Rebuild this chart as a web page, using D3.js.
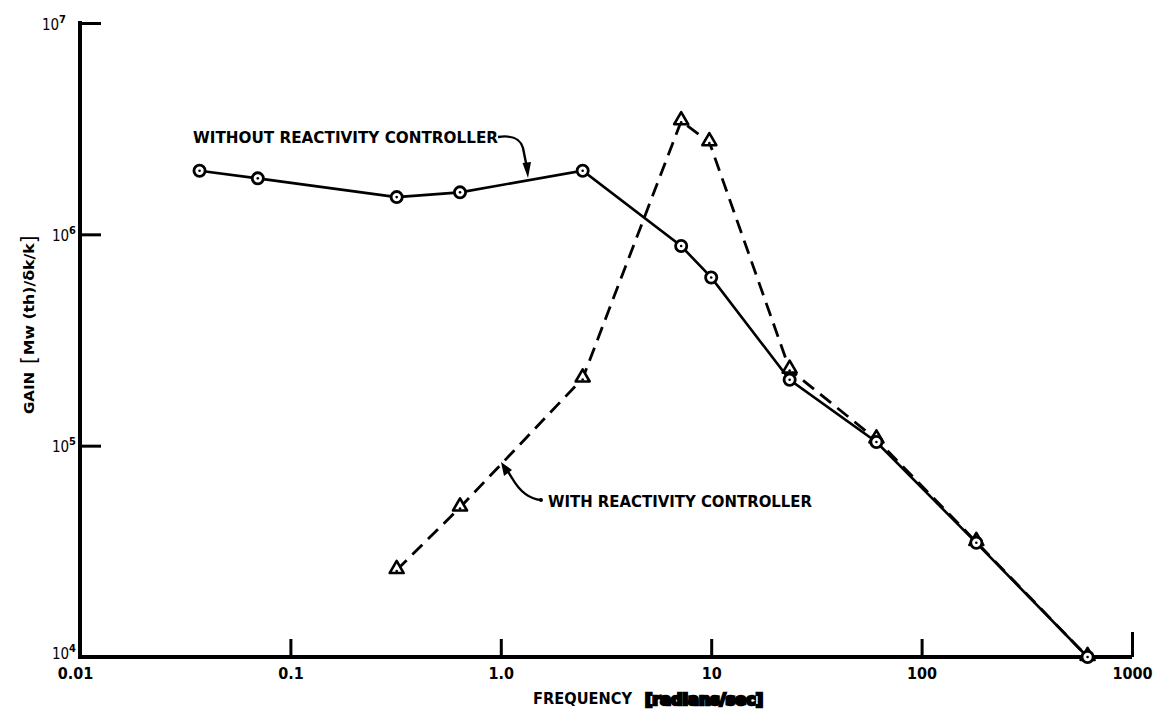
<!DOCTYPE html>
<html>
<head>
<meta charset="utf-8">
<script src="https://cdn.jsdelivr.net/npm/d3@7/dist/d3.min.js"></script>
<style>
  html, body { margin: 0; padding: 0; background: #fff; }
  svg { display: block; }
  text { font-family: "DejaVu Sans", "Liberation Sans", sans-serif; fill: #000; font-stretch: condensed; }
</style>
</head>
<body>
<svg id="chart" width="1160" height="712"></svg>
<script>
// Frequency response of reactor power gain, with and without reactivity control
const freqWithout = [0.037, 0.07, 0.32, 0.64, 2.45, 7.2, 10, 23.6, 61, 182, 615];
const gainWithout = [2.0e6, 1.84e6, 1.5e6, 1.58e6, 2.0e6, 8.8e5, 6.25e5, 2.05e5, 1.04e5, 3.47e4, 1.0e4];

const freqWith = [0.32, 0.64, 2.45, 7.2, 9.8, 23.6, 61, 182, 615];
const gainWith = [2.58e4, 5.1e4, 2.08e5, 3.43e6, 2.73e6, 2.29e5, 1.07e5, 3.5e4, 1.0e4];

const xTickValues = [0.01, 0.1, 1, 10, 100, 1000];
const xTickLabels = ["0.01", "0.1", "1.0", "10", "100", "1000"];
const yTickValues = [1e4, 1e5, 1e6, 1e7];
const yTickExponents = ["4", "5", "6", "7"];

const svg = d3.select("#chart");

const x = d3.scaleLog().domain([0.01, 1000]).range([80, 1132]);
const y = d3.scaleLog().domain([1e4, 1e7]).range([657, 23]);

// ---- axes ----
const xAxis = d3.axisBottom(x)
  .tickValues(xTickValues)
  .tickSize(-18)
  .tickSizeOuter(0)
  .tickPadding(11)
  .tickFormat((d, i) => xTickLabels[i]);

const gx = svg.append("g").attr("transform", "translate(0,657)").call(xAxis);
gx.select(".domain").attr("stroke", "#000").attr("stroke-width", 4).attr("d", "M78,0H1132");
gx.selectAll(".tick line").attr("stroke", "#000").attr("stroke-width", 3);
gx.selectAll(".tick").filter(d => d === 0.01).select("line").remove();
gx.selectAll(".tick").filter(d => d === 1000).select("line").attr("y2", -25);
gx.selectAll(".tick text")
  .attr("font-size", 16).attr("font-weight", "bold")
  .attr("font-family", "DejaVu Sans, sans-serif");
gx.selectAll(".tick").filter(d => d === 0.01).select("text").attr("x", -5);

const yAxis = d3.axisLeft(y)
  .tickValues(yTickValues)
  .tickSize(-21)
  .tickSizeOuter(0)
  .tickPadding(6)
  .tickFormat(() => "");

const gy = svg.append("g").attr("transform", "translate(80,0)").call(yAxis);
gy.select(".domain").attr("stroke", "#000").attr("stroke-width", 4).attr("d", "M0,21V659");
gy.selectAll(".tick line").attr("stroke", "#000").attr("stroke-width", 3);
gy.selectAll(".tick").filter(d => d === 1e4).select("line").remove();

// power-of-ten labels
gy.selectAll(".tick").each(function (d, i) {
  const t = d3.select(this).select("text")
    .attr("font-size", 15)
    .attr("font-family", "DejaVu Sans, sans-serif")
    .attr("text-anchor", "end")
    .attr("dy", null)
    .attr("x", d === 1e7 ? -14 : d === 1e4 ? -4 : -4)
    .attr("y", d === 1e4 ? 1 : 6);
  t.text(null);
  t.append("tspan").text("10");
  t.append("tspan").attr("font-size", 11).attr("font-weight", "bold").attr("dy", -7).text(yTickExponents[i]);
});

// axis titles
svg.append("text")
  .attr("x", 533).attr("y", 704)
  .attr("font-size", 16).attr("font-weight", "bold")
  .attr("textLength", 99).attr("lengthAdjust", "spacingAndGlyphs")
  .text("FREQUENCY");
svg.append("text")
  .attr("x", 645).attr("y", 705)
  .attr("font-size", 16).attr("font-weight", "900")
  .attr("stroke", "#000").attr("stroke-width", 2.4)
  .attr("textLength", 118).attr("lengthAdjust", "spacingAndGlyphs")
  .text("[radians/sec]");

const yTitle = svg.append("text")
  .attr("transform", "translate(34,414) rotate(-90)")
  .attr("font-size", 14).attr("font-weight", "bold");
yTitle.append("tspan").attr("textLength", 42).attr("lengthAdjust", "spacingAndGlyphs").text("GAIN");
yTitle.append("tspan").attr("dx", 8).attr("font-size", 22).attr("font-weight", "normal").attr("dy", 2).text("[");
yTitle.append("tspan").attr("dy", -2).attr("dx", 1).attr("textLength", 112).attr("lengthAdjust", "spacingAndGlyphs").text("Mw (th)/δk/k");
yTitle.append("tspan").attr("font-size", 22).attr("font-weight", "normal").attr("dy", 2).text("]");

// ---- curves ----
const line = d3.line().x(d => x(d[0])).y(d => y(d[1]));
const withoutPts = freqWithout.map((f, i) => [f, gainWithout[i]]);
const withPts = freqWith.map((f, i) => [f, gainWith[i]]);

svg.append("path")
  .datum(withPts)
  .attr("d", line)
  .attr("fill", "none").attr("stroke", "#000")
  .attr("stroke-width", 2.8)
  .attr("stroke-dasharray", "14,8");

svg.append("path")
  .datum(withoutPts)
  .attr("d", line)
  .attr("fill", "none").attr("stroke", "#000")
  .attr("stroke-width", 2.6);

// triangle markers
const tri = d3.symbol().type(d3.symbolTriangle).size(85);
const gt = svg.append("g");
withPts.forEach(p => {
  gt.append("path")
    .attr("d", tri())
    .attr("transform", `translate(${x(p[0])},${y(p[1]) - 1})`)
    .attr("fill", "#fff").attr("stroke", "#000").attr("stroke-width", 2.6)
    .attr("stroke-linejoin", "round");
  gt.append("circle")
    .attr("cx", x(p[0])).attr("cy", y(p[1]) + 1).attr("r", 1.3).attr("fill", "#000");
});

// circle markers
const gc = svg.append("g");
withoutPts.forEach(p => {
  gc.append("circle")
    .attr("cx", x(p[0])).attr("cy", y(p[1])).attr("r", 5.6)
    .attr("fill", "#fff").attr("stroke", "#000").attr("stroke-width", 2.8);
  gc.append("circle")
    .attr("cx", x(p[0])).attr("cy", y(p[1])).attr("r", 1.3).attr("fill", "#000");
});

// ---- callouts ----
svg.append("text")
  .attr("x", 193).attr("y", 143)
  .attr("font-size", 15).attr("font-weight", "bold")
  .attr("textLength", 305).attr("lengthAdjust", "spacingAndGlyphs")
  .text("WITHOUT REACTIVITY CONTROLLER");
svg.append("path")
  .attr("d", "M498,137 C512,135 520,138 523,148 L527,168")
  .attr("fill", "none").attr("stroke", "#000").attr("stroke-width", 2.4);
svg.append("path")
  .attr("d", "M522.5,163 L531,162 L528,178 Z")
  .attr("fill", "#000");

svg.append("text")
  .attr("x", 548).attr("y", 507)
  .attr("font-size", 15).attr("font-weight", "bold")
  .attr("textLength", 264).attr("lengthAdjust", "spacingAndGlyphs")
  .text("WITH REACTIVITY CONTROLLER");
svg.append("path")
  .attr("d", "M541,500 C530,499 520,492 512,478 L507,470")
  .attr("fill", "none").attr("stroke", "#000").attr("stroke-width", 2.4);
svg.append("path")
  .attr("d", "M501,462 L512,470 L504,476 Z")
  .attr("fill", "#000");
svg.append("circle").attr("cx", 541).attr("cy", 500).attr("r", 2).attr("fill", "#000");
</script>
</body>
</html>
